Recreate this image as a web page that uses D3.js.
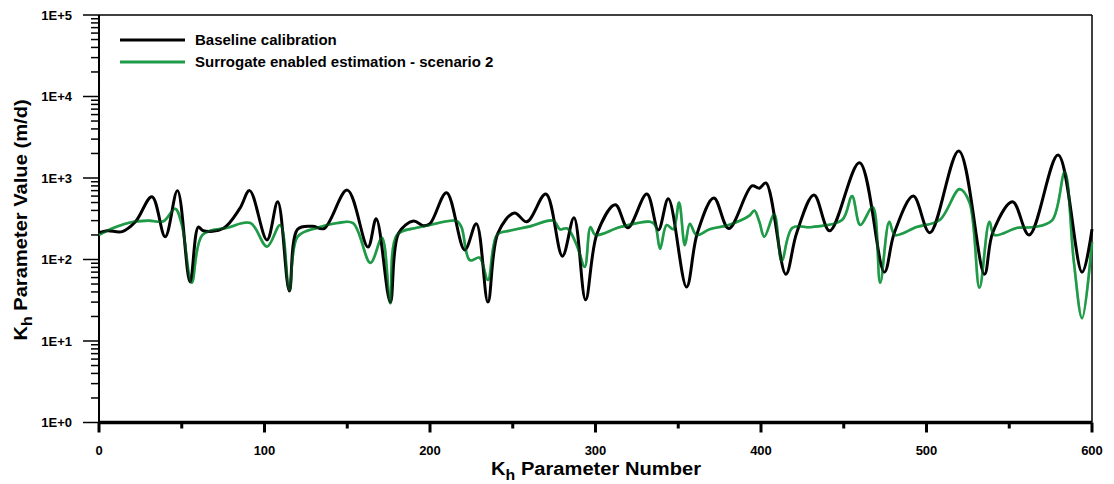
<!DOCTYPE html>
<html>
<head>
<meta charset="utf-8">
<script src="https://cdn.jsdelivr.net/npm/d3@7"></script>
<style>
  body { margin: 0; background: #fff; }
  text { font-family: "Liberation Sans", Arial, sans-serif; font-weight: bold; }
</style>
</head>
<body>
<svg width="1114" height="484"></svg>
<script>
// baseline calibration (black)
var baseX = [0, 5, 14, 22, 32, 40, 47.4, 55, 60, 63, 75, 85, 91, 101.5, 108, 115, 120, 129, 136, 150, 162.5, 167.5, 176, 181, 190, 196, 200, 210, 221, 228, 235, 241, 251, 258.5, 270, 280, 287, 294, 301, 312, 319.5, 331, 338, 344, 355, 361.5, 371.5, 380.5, 394.5, 399, 403, 415, 421.5, 432, 441.5, 459.5, 474.5, 480.5, 492, 502, 519.5, 535, 540, 552, 562, 579.5, 594, 600];
var baseY = [213, 225, 220, 290, 590, 190, 700, 53, 250, 225, 240, 420, 700, 174, 510, 41, 235, 255, 240, 710, 142, 316, 30, 210, 296, 260, 275, 660, 131, 275, 30, 210, 373, 290, 635, 110, 325, 32, 210, 470, 245, 635, 230, 555, 46, 210, 570, 240, 800, 750, 870, 66, 210, 620, 225, 1540, 70, 210, 600, 213, 2150, 66, 213, 510, 200, 1920, 70, 236];

// surrogate enabled estimation - scenario 2 (green)
var surX = [0, 9, 21, 30, 39, 46, 50, 56, 62.5, 77.5, 91.5, 101.5, 109.5, 115, 120, 132, 144, 153.5, 164, 171, 176, 180, 192, 200, 216, 219, 224, 230, 235, 240.5, 248, 260.5, 274.5, 278.5, 283, 289, 293.5, 297, 300, 315, 333, 336, 339, 343, 347, 350.5, 354, 357, 361, 369, 380.5, 393, 396, 399, 402, 408, 412.5, 419, 431, 449, 455, 460, 467.5, 472, 477.5, 481, 494, 508, 520, 526, 532, 538, 541, 555, 565, 576, 583.5, 589, 594, 600];
var surY = [200, 245, 290, 300, 295, 420, 270, 52, 200, 245, 280, 144, 265, 42, 190, 245, 280, 280, 91, 185, 29, 200, 245, 265, 297, 250, 98, 105, 56, 200, 225, 255, 300, 235, 240, 144, 81, 250, 200, 250, 290, 265, 135, 265, 235, 500, 150, 275, 200, 235, 265, 345, 400, 290, 190, 355, 96, 245, 250, 305, 600, 265, 440, 52, 290, 200, 250, 305, 730, 500, 45, 290, 200, 245, 250, 305, 1180, 95, 19, 165];

var xTicks = [0, 100, 200, 300, 400, 500, 600];
var xMinor = [50, 150, 250, 350, 450, 550];
var yTicks = [1, 10, 100, 1000, 10000, 100000];
var yTickLabels = ["1E+0", "1E+1", "1E+2", "1E+3", "1E+4", "1E+5"];

var seriesNames = ["Baseline calibration", "Surrogate enabled estimation - scenario 2"];
var seriesColors = ["#000000", "#1f9a48"];

var svg = d3.select("svg");
var mLeft = 99, mRight = 1092, mTop = 15, mBottom = 422.5;

var x = d3.scaleLinear().domain([0, 600]).range([mLeft, mRight]);
var y = d3.scaleLog().domain([1, 100000]).range([mBottom, mTop]);

// minor log ticks on y
var yMinor = [];
yTicks.slice(0, -1).forEach(function(t) {
  for (var k = 2; k <= 9; k++) yMinor.push(t * k);
});

var gy = svg.append("g");
gy.selectAll(".minor").data(yMinor).enter().append("line")
  .attr("x1", mLeft - 8).attr("x2", mLeft)
  .attr("y1", d => y(d)).attr("y2", d => y(d))
  .attr("stroke", "#000").attr("stroke-width", 1.5);
gy.selectAll(".major").data(yTicks).enter().append("line")
  .attr("x1", mLeft - 16).attr("x2", mLeft)
  .attr("y1", d => y(d)).attr("y2", d => y(d))
  .attr("stroke", "#000").attr("stroke-width", 1.5);
gy.selectAll("text").data(yTicks).enter().append("text")
  .attr("x", 72).attr("y", d => y(d) + 4.5)
  .attr("text-anchor", "end").attr("font-size", 13)
  .text((d, i) => yTickLabels[i]);

// x ticks
var gx = svg.append("g");
gx.selectAll(".minor").data(xMinor).enter().append("line")
  .attr("x1", d => x(d)).attr("x2", d => x(d))
  .attr("y1", mBottom).attr("y2", mBottom + 6)
  .attr("stroke", "#000").attr("stroke-width", 3);
gx.selectAll(".major").data(xTicks).enter().append("line")
  .attr("x1", d => x(d)).attr("x2", d => x(d))
  .attr("y1", mBottom).attr("y2", mBottom + 10)
  .attr("stroke", "#000").attr("stroke-width", 3);
gx.selectAll("text").data(xTicks).enter().append("text")
  .attr("x", d => x(d)).attr("y", 455)
  .attr("text-anchor", "middle").attr("font-size", 13)
  .text(d => d);

// frame
svg.append("line").attr("x1", mLeft).attr("x2", mRight).attr("y1", mTop).attr("y2", mTop)
  .attr("stroke", "#000").attr("stroke-width", 1.5);
svg.append("line").attr("x1", mRight).attr("x2", mRight).attr("y1", mTop).attr("y2", mBottom)
  .attr("stroke", "#000").attr("stroke-width", 1.5);
svg.append("line").attr("x1", mLeft).attr("x2", mLeft).attr("y1", mTop).attr("y2", mBottom)
  .attr("stroke", "#000").attr("stroke-width", 2);

// lines
var line = d3.line().curve(d3.curveCatmullRom.alpha(0.5));
function pts(xs, ys) { return xs.map((v, i) => [x(v), y(ys[i])]); }

svg.append("path").attr("d", line(pts(surX, surY)))
  .attr("fill", "none").attr("stroke", seriesColors[1]).attr("stroke-width", 2.6)
  .attr("stroke-linejoin", "round");
svg.append("path").attr("d", line(pts(baseX, baseY)))
  .attr("fill", "none").attr("stroke", seriesColors[0]).attr("stroke-width", 3)
  .attr("stroke-linejoin", "round");
svg.append("path").attr("d", line(pts(surX, surY)))
  .attr("fill", "none").attr("stroke", seriesColors[1]).attr("stroke-width", 2.6)
  .attr("stroke-opacity", 0.35);

svg.append("line").attr("x1", mLeft).attr("x2", mRight).attr("y1", mBottom).attr("y2", mBottom)
  .attr("stroke", "#000").attr("stroke-width", 3.5);

// legend
var lg = svg.append("g").selectAll("g").data(seriesNames).enter().append("g")
  .attr("transform", (d, i) => "translate(0," + (40 + i * 22) + ")");
lg.append("line").attr("x1", 120).attr("x2", 185)
  .attr("stroke", (d, i) => seriesColors[i]).attr("stroke-width", 3);
lg.append("text").attr("x", 195).attr("y", 5).attr("font-size", 15).text(d => d);

// axis titles
var yl = svg.append("text").attr("transform", "translate(27,220) rotate(-90) scale(1.06,1)")
  .attr("text-anchor", "middle").attr("font-size", 19);
yl.append("tspan").text("K");
yl.append("tspan").attr("font-size", 15).attr("dy", 5).text("h");
yl.append("tspan").attr("dy", -5).text(" Parameter Value (m/d)");

var xl = svg.append("text").attr("transform", "translate(596,475) scale(1.06,1)")
  .attr("text-anchor", "middle").attr("font-size", 19);
xl.append("tspan").text("K");
xl.append("tspan").attr("font-size", 15).attr("dy", 5).text("h");
xl.append("tspan").attr("dy", -5).text(" Parameter Number");
</script>
</body>
</html>
